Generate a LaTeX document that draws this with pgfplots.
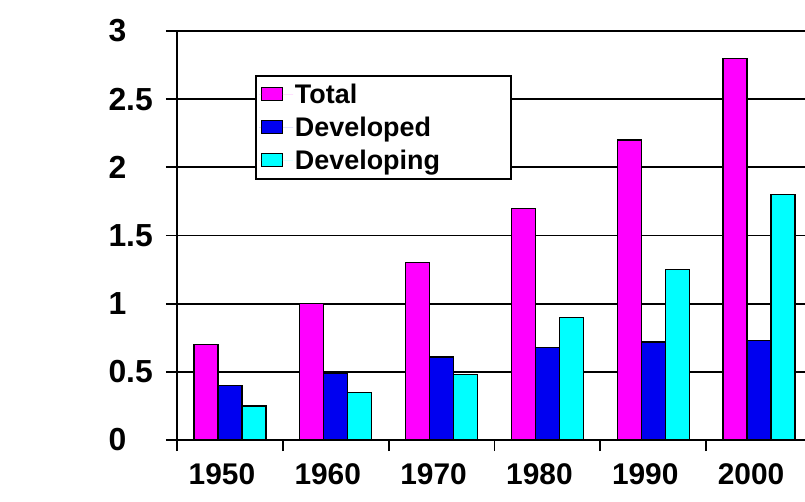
\documentclass[border=0pt]{standalone}
\usepackage{pgfplots}
\pgfplotsset{compat=1.18}
\usepackage{fontspec}
\setmainfont{Liberation Sans}
\definecolor{cTotal}{RGB}{255,0,255}
\definecolor{cDev}{RGB}{0,0,240}
\definecolor{cDevg}{RGB}{0,255,255}

\begin{document}
\begin{tikzpicture}
\begin{axis}[
    scale only axis,
    width=635bp, height=409bp,
    xmin=-0.5, xmax=5.5, ymin=0, ymax=3,
    axis x line*=bottom, axis y line*=left,
    axis line style={black, line width=1.8bp},
    ybar=0pt, bar width=0.227,
    xtick={-0.5,0.5,...,5.5},
    x tick label as interval,
    xticklabels={1950,1960,1970,1980,1990,2000},
    ytick={0,0.5,...,3},
    ymajorgrids,
    grid style={black, line width=1.8bp},
    tick align=outside, major tick length=11bp,
    every tick/.style={black, line width=1.8bp},
    /pgf/number format/assume math mode=true,
    /pgf/number format/fixed,
    yticklabel style={font=\fontsize{32}{32}\selectfont\bfseries, anchor=west, xshift=-61bp},
    xticklabel style={font=\fontsize{30}{30}\selectfont\bfseries, yshift=-9bp, xshift=-8bp},
    legend style={at={(rel axis cs:0.123,0.892)}, anchor=north west,
      font=\fontsize{27}{27}\selectfont\bfseries, draw=black, line width=1.8bp,
      fill=white, row sep=8bp, inner xsep=3bp, inner ysep=6bp},
    legend cell align=left,
    legend image code/.code={\draw[#1, line width=1bp] (2bp,-6bp) rectangle (23bp,7bp);
      \path[draw=none] (0bp,0bp) -- (34bp,0bp);},
    every axis plot/.append style={draw=black, line width=1.4bp},
]
\addplot[fill=cTotal] coordinates {(0,0.70) (1,1.00) (2,1.30) (3,1.70) (4,2.20) (5,2.80)};
\addplot[fill=cDev] coordinates {(0,0.40) (1,0.49) (2,0.61) (3,0.68) (4,0.72) (5,0.73)};
\addplot[fill=cDevg] coordinates {(0,0.25) (1,0.35) (2,0.48) (3,0.90) (4,1.25) (5,1.80)};
\legend{Total, Developed, Developing\hspace*{66bp}}
\end{axis}
\pgfresetboundingbox
\useasboundingbox (-177bp,-62bp) rectangle (628bp,440bp);
\end{tikzpicture}
\end{document}
